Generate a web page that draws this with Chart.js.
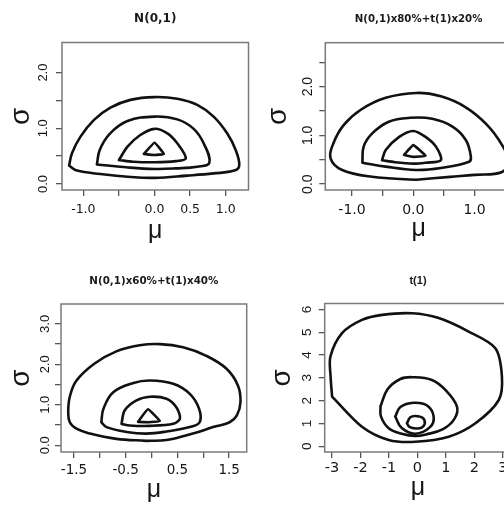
<!DOCTYPE html>
<html><head><meta charset="utf-8">
<script src="https://cdn.jsdelivr.net/npm/chart.js@4"></script>
<style>
html,body{margin:0;padding:0;background:#fff;overflow:hidden;width:504px;height:505px;position:relative;}
.p{position:absolute;width:264px;height:262px;}
</style></head><body>
<div class="p" style="left:0;top:0"><canvas id="c1" width="264" height="262"></canvas></div>
<div class="p" style="left:264px;top:0"><canvas id="c2" width="264" height="262"></canvas></div>
<div class="p" style="left:0;top:262px"><canvas id="c3" width="264" height="262"></canvas></div>
<div class="p" style="left:264px;top:262px"><canvas id="c4" width="264" height="262"></canvas></div>
<script>
// ---------- titles ----------
const titles = ['N(0,1)', 'N(0,1)x80%+t(1)x20%', 'N(0,1)x60%+t(1)x40%', 't(1)'];
const xAxisLabel = 'μ';
const yAxisLabel = 'σ';

// ---------- tick values / labels ----------
const p1XTicks = [-1, -0.5, 0, 0.5, 1];
const p1XLabels = ['-1.0', '', '0.0', '0.5', '1.0'];
const p1YTicks = [0, 0.5, 1, 1.5, 2];
const p1YLabels = ['0.0', '', '1.0', '', '2.0'];

const p2XTicks = [-1, -0.5, 0, 0.5, 1, 1.5];
const p2XLabels = ['-1.0', '', '0.0', '', '1.0', ''];
const p2YTicks = [0, 0.5, 1, 1.5, 2, 2.5];
const p2YLabels = ['0.0', '', '1.0', '', '2.0', ''];

const p3XTicks = [-1.5, -1, -0.5, 0, 0.5, 1, 1.5];
const p3XLabels = ['-1.5', '', '-0.5', '', '0.5', '', '1.5'];
const p3YTicks = [0, 0.5, 1, 1.5, 2, 2.5, 3];
const p3YLabels = ['0.0', '', '1.0', '', '2.0', '', '3.0'];

const p4XTicks = [-3, -2, -1, 0, 1, 2, 3];
const p4XLabels = ['-3', '-2', '-1', '0', '1', '2', '3'];
const p4YTicks = [0, 1, 2, 3, 4, 5, 6];
const p4YLabels = ['0', '1', '2', '3', '4', '5', '6'];

// ---------- contour lines [mu, sigma] ----------
// Panel 1: N(0,1)
const p1Outer = [[-1.20,0.33],[-1.16,0.55],[-1.04,0.85],[-0.85,1.15],[-0.62,1.37],[-0.34,1.51],[0,1.56],[0.32,1.53],[0.60,1.42],[0.83,1.21],[1.02,0.91],[1.14,0.61],[1.19,0.33],[1.12,0.24],[0.83,0.19],[0.46,0.15],[0,0.11],[-0.38,0.13],[-0.76,0.18],[-1.09,0.24],[-1.20,0.33]];
const p1Mid = [[-0.81,0.35],[-0.77,0.61],[-0.63,0.90],[-0.38,1.13],[0,1.21],[0.32,1.16],[0.55,0.99],[0.69,0.73],[0.77,0.38],[0.60,0.31],[0.30,0.28],[0,0.27],[-0.40,0.30],[-0.81,0.35]];
const p1Inner = [[-0.50,0.43],[-0.38,0.67],[-0.20,0.88],[0,0.99],[0.18,0.91],[0.32,0.73],[0.44,0.46],[0.30,0.41],[0,0.39],[-0.30,0.40],[-0.50,0.43]];
const p1Core = [[-0.15,0.54],[0,0.74],[0.13,0.54],[0,0.52],[-0.15,0.54]];

// Panel 2: N(0,1)x80%+t(1)x20%
const p2Outer = [[0.05,0.09],[-0.67,0.15],[-1.16,0.29],[-1.35,0.53],[-1.30,0.85],[-1.13,1.22],[-0.85,1.53],[-0.45,1.77],[0.05,1.87],[0.45,1.80],[0.85,1.58],[1.20,1.22],[1.45,0.80],[1.55,0.48],[1.45,0.25],[1.0,0.19],[0.60,0.15],[0.05,0.09]];
const p2Mid = [[-0.83,0.44],[-0.81,0.77],[-0.67,1.04],[-0.40,1.28],[-0.05,1.36],[0.31,1.34],[0.64,1.18],[0.86,0.90],[0.94,0.56],[0.91,0.46],[0.45,0.33],[0.04,0.29],[-0.45,0.36],[-0.83,0.44]];
const p2Inner = [[-0.51,0.49],[-0.45,0.70],[-0.23,0.97],[0,1.09],[0.20,0.97],[0.37,0.77],[0.45,0.49],[0.20,0.44],[0,0.42],[-0.30,0.45],[-0.51,0.49]];
const p2Core = [[-0.15,0.60],[0,0.80],[0.20,0.58],[0,0.56],[-0.15,0.60]];

// Panel 3: N(0,1)x60%+t(1)x40%
const p3Outer = [[-0.10,0.11],[-0.68,0.16],[-1.19,0.29],[-1.45,0.41],[-1.58,0.57],[-1.61,0.82],[-1.58,1.20],[-1.45,1.60],[-1.10,2.02],[-0.68,2.32],[-0.23,2.47],[0.16,2.50],[0.61,2.42],[1.06,2.21],[1.45,1.89],[1.67,1.48],[1.72,1.07],[1.65,0.74],[1.51,0.57],[1.19,0.45],[0.80,0.29],[0.29,0.13],[-0.10,0.11]];
const p3Mid = [[-0.97,0.57],[-0.93,0.90],[-0.74,1.31],[-0.35,1.54],[-0.03,1.60],[0.42,1.52],[0.74,1.27],[0.92,0.90],[0.93,0.57],[0.74,0.45],[0.29,0.34],[-0.10,0.29],[-0.48,0.33],[-0.87,0.45],[-0.97,0.57]];
const p3Inner = [[-0.58,0.53],[-0.52,0.86],[-0.29,1.11],[-0.03,1.20],[0.29,1.15],[0.48,0.94],[0.55,0.66],[0.42,0.53],[-0.03,0.48],[-0.42,0.49],[-0.58,0.53]];
const p3Core = [[-0.26,0.58],[-0.07,0.89],[0.16,0.60],[-0.05,0.57],[-0.26,0.58]];

// Panel 4: t(1)
const p4Outer = [[-3.00,2.18],[-3.05,3.00],[-3.06,3.93],[-2.65,4.96],[-1.95,5.54],[-1.24,5.76],[-0.19,5.83],[0.75,5.62],[1.80,5.03],[2.74,4.30],[2.97,3.06],[2.86,2.03],[2.04,1.01],[1.10,0.42],[-0.07,0.20],[-1.01,0.28],[-1.95,0.86],[-3.00,2.18]];
const p4Mid = [[-1.30,1.74],[-1.05,2.50],[-0.60,2.95],[-0.19,3.03],[0.51,2.91],[1.00,2.45],[1.39,1.74],[1.30,1.20],[0.90,0.75],[0.30,0.52],[-0.08,0.45],[-0.55,0.55],[-1.01,0.79],[-1.28,1.30],[-1.30,1.74]];
const p4Inner = [[-0.78,1.30],[-0.60,1.72],[-0.13,1.91],[0.35,1.78],[0.57,1.30],[0.45,0.85],[-0.07,0.55],[-0.55,0.80],[-0.78,1.30]];
const p4Core = [[-0.37,1.01],[-0.25,1.27],[-0.07,1.33],[0.18,1.25],[0.26,1.01],[0.15,0.82],[-0.05,0.78],[-0.28,0.85],[-0.37,1.01]];

// ---------- rendering ----------
const W = 264, H = 262, TL = 6;
const mctx = document.createElement('canvas').getContext('2d');
function widest(font, labels) {
  mctx.font = (font.weight || 'normal') + ' ' + font.size + 'px ' + font.family;
  return Math.max(...labels.map(l => mctx.measureText(l).width));
}
const boxPlugin = {
  id: 'rbox',
  afterDraw(chart) {
    const {ctx, chartArea: a} = chart;
    ctx.save();
    ctx.strokeStyle = '#7a7a7a';
    ctx.lineWidth = 1.5;
    ctx.strokeRect(a.left, a.top, a.right - a.left, a.bottom - a.top);
    ctx.restore();
  }
};

function panel(id, o) {
  const lhT = o.titleFont.size * 1.2;
  const tTop = o.titleY - lhT / 2;
  const yW = widest(o.yFont, o.yLabels);
  new Chart(document.getElementById(id), {
    type: 'scatter',
    data: {
      datasets: o.contours.map((c, i) => ({
        data: c.map(p => ({x: p[0], y: p[1]})),
        showLine: true, borderColor: '#111', borderWidth: 2.6,
        pointRadius: 0, pointHoverRadius: 0, fill: false,
        tension: o.tensions[i], borderJoinStyle: 'round', borderCapStyle: 'round'
      }))
    },
    options: {
      responsive: false, animation: false, devicePixelRatio: 1, events: [],
      layout: {padding: {left: 0, top: 0, right: W - o.area.R, bottom: 0}},
      plugins: {
        legend: {display: false}, tooltip: {enabled: false},
        title: {
          display: true, text: o.title, fullSize: false, color: '#1a1a1a',
          font: Object.assign({lineHeight: 1.2}, o.titleFont),
          padding: {top: tTop, bottom: o.area.T - tTop - lhT}
        }
      },
      scales: {
        x: {
          type: 'linear', position: 'bottom', min: o.xMin, max: o.xMax,
          afterBuildTicks: s => { s.ticks = o.xTicks.map(v => ({value: v})); },
          afterFit: s => { s.height = H - o.area.B; },
          ticks: {
            autoSkip: false, maxRotation: 0, minRotation: 0, color: '#161616',
            font: o.xFont, padding: o.xLabelY - o.area.B - TL - o.xFont.size * 0.6,
            callback: (v, i) => o.xLabels[i]
          },
          grid: {display: true, drawOnChartArea: false, drawTicks: true, tickLength: TL, color: '#555', lineWidth: 1.3},
          border: {display: false},
          title: {
            display: true, text: xAxisLabel, color: '#161616',
            font: {family: 'Liberation Sans', size: o.muSize, lineHeight: 1.2},
            padding: {top: 0, bottom: H - o.muY - o.muSize * 0.6}
          }
        },
        y: {
          type: 'linear', position: 'left', min: o.yMin, max: o.yMax,
          afterBuildTicks: s => { s.ticks = o.yTicks.map(v => ({value: v})); },
          afterFit: s => { s.width = o.area.L; },
          ticks: {
            autoSkip: false, minRotation: 90, maxRotation: 90, crossAlign: 'center', color: '#161616',
            font: o.yFont, padding: o.area.L - TL - yW / 2 - o.yLabelX,
            callback: (v, i) => o.yLabels[i]
          },
          grid: {display: true, drawOnChartArea: false, drawTicks: true, tickLength: TL, color: '#555', lineWidth: 1.3},
          border: {display: false},
          title: {
            display: true, text: yAxisLabel, color: '#161616',
            font: {family: 'Liberation Sans', size: o.sigmaSize, lineHeight: 1.2},
            padding: {top: o.sigmaX - o.sigmaSize * 0.6, bottom: 0}
          }
        }
      }
    },
    plugins: [boxPlugin]
  });
}

panel('c1', {
  title: titles[0], titleFont: {family: 'DejaVu Sans', size: 12, weight: 'bold'}, titleY: 18.5,
  contours: [p1Outer, p1Mid, p1Inner, p1Core], tensions: [0.4, 0.4, 0.3, 0.1],
  xMin: -1.30, xMax: 1.32, yMin: -0.108, yMax: 2.54,
  xTicks: p1XTicks, xLabels: p1XLabels, yTicks: p1YTicks, yLabels: p1YLabels,
  area: {L: 62, T: 42.5, R: 248.5, B: 190},
  xFont: {family: 'DejaVu Sans', size: 12.5}, yFont: {family: 'Liberation Sans', size: 13},
  xLabelY: 210, yLabelX: 43.3, sigmaX: 21.7, muY: 231, sigmaSize: 28, muSize: 25
});
panel('c2', {
  title: titles[1], titleFont: {family: 'DejaVu Sans', size: 10.2, weight: 'bold'}, titleY: 19,
  contours: [p2Outer, p2Mid, p2Inner, p2Core], tensions: [0.4, 0.4, 0.3, 0.1],
  xMin: -1.436, xMax: 1.61, yMin: -0.12, yMax: 2.90,
  xTicks: p2XTicks, xLabels: p2XLabels, yTicks: p2YTicks, yLabels: p2YLabels,
  area: {L: 61.3, T: 42.7, R: 247.9, B: 190},
  xFont: {family: 'DejaVu Sans', size: 14}, yFont: {family: 'Liberation Sans', size: 14},
  xLabelY: 210.7, yLabelX: 43.7, sigmaX: 14.7, muY: 229, sigmaSize: 28, muSize: 25
});
panel('c3', {
  title: titles[2], titleFont: {family: 'DejaVu Sans', size: 10.3, weight: 'bold'}, titleY: 19.3,
  contours: [p3Outer, p3Mid, p3Inner, p3Core], tensions: [0.4, 0.4, 0.3, 0.1],
  xMin: -1.75, xMax: 1.84, yMin: -0.165, yMax: 3.49,
  xTicks: p3XTicks, xLabels: p3XLabels, yTicks: p3YTicks, yLabels: p3YLabels,
  area: {L: 61, T: 42, R: 246.7, B: 190},
  xFont: {family: 'DejaVu Sans', size: 13.5}, yFont: {family: 'Liberation Sans', size: 13},
  xLabelY: 208.7, yLabelX: 45, sigmaX: 20.8, muY: 228, sigmaSize: 28, muSize: 25
});
panel('c4', {
  title: titles[3], titleFont: {family: 'Liberation Sans', size: 11, weight: 'bold'}, titleY: 19.3,
  contours: [p4Outer, p4Mid, p4Inner, p4Core], tensions: [0.3, 0.4, 0.4, 0.4],
  xMin: -3.26, xMax: 3.30, yMin: -0.25, yMax: 6.26,
  xTicks: p4XTicks, xLabels: p4XLabels, yTicks: p4YTicks, yLabels: p4YLabels,
  area: {L: 60.7, T: 41.5, R: 247.3, B: 190},
  xFont: {family: 'DejaVu Sans', size: 14.5}, yFont: {family: 'Liberation Sans', size: 13.5},
  xLabelY: 206.3, yLabelX: 43, sigmaX: 18, muY: 226, sigmaSize: 28, muSize: 25
});
</script>
</body></html>
